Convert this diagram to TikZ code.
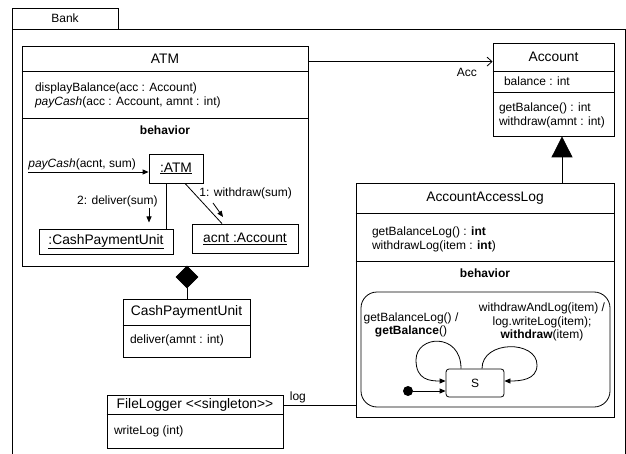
\documentclass[tikz,border=0pt]{standalone}
\usepackage{fontspec}
\setmainfont{Liberation Sans}
\usetikzlibrary{positioning,arrows.meta,shapes.geometric,calc}

\begin{document}
\begin{tikzpicture}[
    x=1pt, y=-1pt, line width=0.8pt,
    font=\fontsize{12}{13.5}\selectfont,
    classbox/.style={draw, inner sep=0pt},
    objbox/.style={draw, inner sep=0pt, font=\fontsize{13.8}{15}\selectfont},
    heading/.style={inner sep=0pt, font=\fontsize{13.8}{15}\selectfont},
    txt/.style={inner sep=0pt, align=left, anchor=west},
    sectlabel/.style={inner sep=0pt, font=\fontsize{12}{13.5}\selectfont\bfseries},
    msg/.style={-{Triangle[length=6pt,width=5pt]}},
    assoc/.style={-{Straight Barb[length=5pt,width=9pt]}},
    gen/.style={-{Triangle[length=21pt,width=21pt]}},
    comp/.style={diamond, draw, fill=black, minimum width=22pt, minimum height=22pt, inner sep=0pt},
    statebox/.style={draw, rounded corners=3pt, minimum width=58pt, minimum height=28pt, inner sep=0pt},
    initial node/.style={circle, fill=black, minimum size=10pt, inner sep=0pt},
  ]
  \useasboundingbox (0,0) rectangle (626,454);
  \node[draw, minimum width=106pt, minimum height=21pt, inner sep=0pt] (bank) at (65,18.5) {Bank};
  \draw (12,454) |- (625,29) -- (625,454);
  \node[classbox, minimum width=286pt, minimum height=220pt] (atm) at (165,156) {};
  \draw ($(atm.north west)+(0,26)$) -- ($(atm.north east)+(0,26)$);
  \draw ($(atm.north west)+(0,73)$) -- ($(atm.north east)+(0,73)$);
  \node[heading] (atmname) at ($(atm.north)+(0,13)$) {ATM};
  \node[txt] (atmops) at ($(atm.north west)+(13,50)$) {displayBalance(acc : Account)\\\textit{payCash}(acc : Account, amnt : int)};
  \node[sectlabel] (atmbeh) at ($(atm.north)+(0,85)$) {behavior};
  \node[objbox, minimum width=54pt, minimum height=29pt] (atmobj) at (176,168.5) {\underline{:ATM}};
  \node[objbox, minimum width=134pt, minimum height=25pt] (cpuobj) at (106,241.5) {\underline{:CashPaymentUnit}};
  \node[objbox, minimum width=106pt, minimum height=29pt] (acntobj) at (245,238.5) {\underline{acnt :Account}};
  \draw ([xshift=-10pt]atmobj.south) -- ([xshift=60pt]cpuobj.north);
  \draw ([xshift=9pt]atmobj.south) -- ([xshift=-23pt]acntobj.north);
  \coordinate (callsrc) at (28,172);
  \draw[msg] (callsrc) -- ([yshift=-3.5pt]atmobj.west);
  \node[anchor=south west, inner sep=0pt] (paylbl) at ([yshift=1.5pt]callsrc) {\textit{payCash}(acnt, sum)};
  \node[anchor=east, inner sep=0pt] (deliverlbl) at (158,201) {2: deliver(sum)};
  \draw[msg] ($(deliverlbl.south east)+(-9,1)$) -- ++(0,14.5);
  \node[anchor=west, inner sep=0pt] (withdrawlbl) at (199,193) {1: withdraw(sum)};
  \draw[msg] ($(withdrawlbl.south west)+(14,4)$) -- ++(10,14);
  \node[comp] (compdia) at (187,277) {};
  \node[classbox, minimum width=127pt, minimum height=58pt] (cpu) at (186.5,328) {};
  \draw ($(cpu.north west)+(0,27)$) -- ($(cpu.north east)+(0,27)$);
  \node[heading] (cpuname) at ($(cpu.north)+(0,13.5)$) {CashPaymentUnit};
  \node[txt] (cpuops) at ($(cpu.north west)+(7,42)$) {deliver(amnt : int)};
  \draw (compdia.south) -- (compdia.south |- cpu.north);
  \node[classbox, minimum width=176pt, minimum height=53pt] (logger) at (195,421.5) {};
  \draw ($(logger.north west)+(0,20)$) -- ($(logger.north east)+(0,20)$);
  \node[heading] (loggername) at ($(logger.north)+(0,10.5)$) {FileLogger <{}<singleton>{}>};
  \node[txt] (loggerops) at ($(logger.north west)+(7,37)$) {writeLog (int)};
  \node[classbox, minimum width=121pt, minimum height=93pt] (account) at (553.5,89.5) {};
  \draw ($(account.north west)+(0,29)$) -- ($(account.north east)+(0,29)$);
  \draw ($(account.north west)+(0,50)$) -- ($(account.north east)+(0,50)$);
  \node[heading] (accountname) at ($(account.north)+(0,14.5)$) {Account};
  \node[txt] (accountattr) at ($(account.north west)+(11,39)$) {balance : int};
  \node[txt] (accountops) at ($(account.north west)+(6,73)$) {getBalance() : int\\withdraw(amnt : int)};
  \node[classbox, minimum width=258pt, minimum height=234pt] (aal) at (485,300) {};
  \draw ($(aal.north west)+(0,31)$) -- ($(aal.north east)+(0,31)$);
  \draw ($(aal.north west)+(0,79)$) -- ($(aal.north east)+(0,79)$);
  \node[heading] (aalname) at ($(aal.north)+(0,15.5)$) {AccountAccessLog};
  \node[txt] (aalops) at ($(aal.north west)+(16,57)$) {getBalanceLog() : \textbf{int}\\withdrawLog(item : \textbf{int})};
  \node[sectlabel] (aalbeh) at ($(aal.north)+(0,91)$) {behavior};
  \node[draw, rounded corners=16pt, minimum width=249pt, minimum height=115pt, inner sep=0pt] (sm) at (485.5,349.5) {};
  \node[statebox] (s) at (475,383) {S};
  \node[initial node] (init) at (408,391) {};
  \draw[msg] (init) -- (init -| s.west);
  \draw[msg] ([xshift=-14pt]s.north) .. controls (461,332) and (416,335) .. (416,360) .. controls (416,380) and (430,381) .. ([yshift=2pt]s.west);
  \draw[msg] ([xshift=7pt]s.north) .. controls (482,340) and (537,340) .. (537,365) .. controls (537,380) and (520,381) .. ([yshift=2pt]s.east);
  \node[align=center, inner sep=0pt] (getlbl) at (411,325) {getBalanceLog() /\\\textbf{getBalance}()};
  \node[align=center, inner sep=0pt] (wdlbl) at (542,322) {withdrawAndLog(item) /\\log.writeLog(item);\\\textbf{withdraw}(item)};
  \coordinate (assocsrc) at ($(atm.north east)+(0,16)$);
  \draw[assoc] (assocsrc) -- node[pos=0.86, below=6pt, inner sep=0pt] {Acc} (assocsrc -| account.west);
  \coordinate (genpt) at ([xshift=8.5pt]account.south);
  \draw[gen] (genpt |- aal.north) -- (genpt);
  \coordinate (logsrc) at ([yshift=16.5pt]logger.east);
  \draw (logsrc) -- node[pos=0.2, above=2pt, inner sep=0pt] {log} (logsrc -| aal.west);
\end{tikzpicture}
\end{document}
